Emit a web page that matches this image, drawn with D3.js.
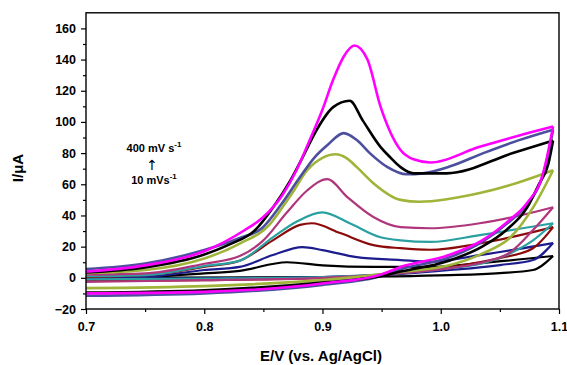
<!DOCTYPE html>
<html lang="en">
<head>
    <meta charset="UTF-8">
    <script src="https://cdnjs.cloudflare.com/ajax/libs/d3/7.8.5/d3.min.js"></script>
    <style>
        body {
            margin: 0;
            background: #fff;
        }

        text {
            font-family: Arial, "Liberation Sans", sans-serif;
            font-weight: bold;
            fill: #000;
        }
    </style>
</head>
<body>
<svg id="chart" width="567" height="365"></svg>

<script>
    // scan rates, smallest to largest (drawn in this order)
    var scanRates = [10, 25, 50, 75, 100, 150, 200, 300, 400];
    var colors = ["#000000", "#1c1c8e", "#8b0b0b", "#2aa0a0", "#b0367c", "#a0b43a", "#4b4f9e", "#000000", "#ff00ff"];

    var xTicks = [0.7, 0.8, 0.9, 1.0, 1.1];
    var xMinorTicks = [0.75, 0.85, 0.95, 1.05];
    var yTicks = [-20, 0, 20, 40, 60, 80, 100, 120, 140, 160];
    var yMinorTicks = [-10, 10, 30, 50, 70, 90, 110, 130, 150];

    // anodic (forward) sweeps, [E, I]
    var fwd10 = [[0.70, 0], [0.75, 0.6], [0.80, 2.8], [0.83, 4.5], [0.87, 10], [0.90, 8], [0.943, 7], [0.991, 7], [1.033, 9.4], [1.095, 14]];
    var fwd25 = [[0.70, 0], [0.75, 0.6], [0.80, 5], [0.83, 7], [0.858, 14.6], [0.883, 19.7], [0.90, 17.8], [0.929, 13.3], [0.966, 11.4], [0.991, 10.3], [1.033, 14.6], [1.095, 22.3]];
    var fwd50 = [[0.70, 0.5], [0.75, 1.7], [0.80, 7], [0.83, 11], [0.858, 24], [0.881, 34], [0.891, 35], [0.915, 28.7], [0.943, 21], [0.966, 19], [0.991, 18], [1.033, 22], [1.095, 32.5]];
    var fwd75 = [[0.70, 1], [0.75, 1.7], [0.80, 7.5], [0.83, 11], [0.858, 26], [0.878, 36], [0.90, 42], [0.923, 35], [0.949, 26], [0.966, 24], [0.991, 23], [1.033, 27.4], [1.095, 35]];
    var fwd100 = [[0.70, 2], [0.75, 2.8], [0.80, 9], [0.83, 14], [0.85, 24], [0.87, 42], [0.887, 56], [0.904, 63.3], [0.921, 51.8], [0.943, 39], [0.966, 32.5], [0.991, 31.8], [1.033, 35], [1.067, 40], [1.095, 45.3]];
    var fwd150 = [[0.70, 3], [0.75, 5], [0.80, 12.4], [0.83, 22], [0.855, 34], [0.865, 44], [0.875, 55], [0.887, 69], [0.90, 77], [0.911, 79.3], [0.92, 77], [0.929, 71], [0.943, 60.7], [0.966, 50], [0.982, 48.8], [1.033, 54.4], [1.065, 61], [1.095, 69]];
    var fwd200 = [[0.70, 5.6], [0.75, 9.2], [0.80, 17.8], [0.83, 25.5], [0.849, 32], [0.865, 47], [0.881, 64.6], [0.893, 77], [0.904, 85], [0.918, 92.8], [0.929, 88.4], [0.94, 80], [0.955, 71], [0.971, 66.4], [0.985, 67], [1.008, 71.5], [1.036, 80], [1.065, 88], [1.095, 95]];
    var fwd300 = [[0.70, 3.5], [0.75, 6.7], [0.80, 15], [0.82, 21], [0.843, 30.6], [0.858, 45], [0.873, 62.7], [0.885, 80], [0.895, 94.8], [0.909, 109.5], [0.923, 113.6], [0.934, 101], [0.949, 84], [0.957, 77.5], [0.966, 71], [0.977, 67], [1.005, 67], [1.061, 80], [1.095, 88]];
    var fwd400 = [[0.70, 4], [0.75, 8], [0.80, 17], [0.834, 30.5], [0.85, 39], [0.866, 53], [0.878, 69], [0.889, 88], [0.90, 108], [0.909, 127], [0.918, 142], [0.927, 149], [0.938, 140], [0.949, 110], [0.966, 82], [0.977, 76], [0.991, 74], [1.033, 84], [1.065, 91], [1.095, 97]];

    // cathodic (reverse) sweeps, [E, I]
    var rev10 = [[1.095, 14], [1.078, 5], [1.05, 3], [1.008, 1.7], [0.90, 0.5], [0.70, 0]];
    var rev25 = [[1.095, 22.3], [1.078, 11.4], [1.05, 8.2], [1.008, 5], [0.966, 2.5], [0.90, 0.5], [0.80, -0.3], [0.70, -0.5]];
    var rev50 = [[1.095, 32.5], [1.078, 19], [1.05, 12.6], [1.008, 6.9], [0.966, 3], [0.90, 0], [0.80, -1.5], [0.70, -2]];
    var rev75 = [[1.095, 35], [1.078, 24], [1.059, 15.8], [1.036, 9.4], [1.008, 6.2], [0.966, 3], [0.90, 0.5], [0.80, -0.5], [0.70, -1]];
    var rev100 = [[1.095, 45.3], [1.078, 30.6], [1.059, 16.5], [1.036, 10], [1.008, 6.2], [0.966, 3], [0.90, 0], [0.80, -1.5], [0.70, -2.6]];
    var rev150 = [[1.095, 69], [1.078, 45], [1.059, 26], [1.036, 15.8], [1.008, 8.2], [0.966, 3.7], [0.90, -1.5], [0.80, -5.3], [0.70, -6.6]];
    var rev200 = [[1.095, 95], [1.09, 76], [1.086, 65], [1.073, 47], [1.058, 36], [1.035, 23], [1.007, 13], [0.966, 5.5], [0.949, 1], [0.90, -4.5], [0.80, -10], [0.70, -11.5]];
    var rev300 = [[1.095, 88], [1.091, 73], [1.083, 60], [1.073, 45], [1.056, 31], [1.035, 20], [1.007, 11], [0.966, 4], [0.949, 1], [0.90, -3], [0.80, -8], [0.70, -9.5]];
    var rev400 = [[1.095, 97], [1.09, 78], [1.0865, 67], [1.073, 48], [1.058, 37], [1.035, 24], [1.007, 14.6], [0.966, 7], [0.949, 2], [0.90, -3.6], [0.80, -9], [0.70, -10]];

    var forward = [fwd10, fwd25, fwd50, fwd75, fwd100, fwd150, fwd200, fwd300, fwd400];
    var reverse = [rev10, rev25, rev50, rev75, rev100, rev150, rev200, rev300, rev400];

    var plotLeft = 86, plotRight = 559, plotTop = 12.8, plotBottom = 309;

    var svg = d3.select("#chart");

    var x = d3.scaleLinear().domain([0.7, 1.1]).range([plotLeft, plotRight]);
    var y = d3.scaleLinear().domain([-20, 170]).range([plotBottom, plotTop]);

    // curves
    var line = d3.line()
        .x(function (d) { return x(d[0]); })
        .y(function (d) { return y(d[1]); })
        .curve(d3.curveMonotoneX);

    var plot = svg.append("g");
    for (var i = 0; i < scanRates.length; i++) {
        var w = i < 5 ? 2.2 : 2.6;
        plot.append("path")
            .attr("d", line(forward[i]))
            .attr("fill", "none")
            .attr("stroke", colors[i])
            .attr("stroke-width", w);
        plot.append("path")
            .attr("d", line(reverse[i].slice().sort(function (a, b) { return a[0] - b[0]; })))
            .attr("fill", "none")
            .attr("stroke", colors[i])
            .attr("stroke-width", w);
    }

    // axes
    svg.append("g").attr("transform", "translate(0," + plotBottom + ")")
        .call(d3.axisBottom(x).tickValues(xTicks).tickSize(5).tickPadding(8).tickFormat(d3.format(".1f")));
    svg.append("g").attr("transform", "translate(0," + plotBottom + ")")
        .call(d3.axisBottom(x).tickValues(xMinorTicks).tickSize(3).tickFormat(""));
    svg.append("g").attr("transform", "translate(" + plotLeft + ",0)")
        .call(d3.axisLeft(y).tickValues(yTicks).tickSize(5).tickPadding(5));
    svg.append("g").attr("transform", "translate(" + plotLeft + ",0)")
        .call(d3.axisLeft(y).tickValues(yMinorTicks).tickSize(3).tickFormat(""));

    svg.selectAll(".domain").remove();
    svg.selectAll(".tick line").attr("stroke", "#000").attr("stroke-width", 1.2);
    svg.selectAll(".tick text").style("font-size", "12.5px").style("font-weight", "bold")
        .style("font-family", "Arial, 'Liberation Sans', sans-serif");

    svg.append("rect")
        .attr("x", plotLeft).attr("y", plotTop)
        .attr("width", plotRight - plotLeft).attr("height", plotBottom - plotTop)
        .attr("fill", "none").attr("stroke", "#000").attr("stroke-width", 1.4);

    // titles
    svg.append("text")
        .attr("x", 321).attr("y", 361)
        .attr("text-anchor", "middle")
        .style("font-size", "15px")
        .text("E/V (vs. Ag/AgCl)");

    svg.append("text")
        .attr("transform", "translate(23,168) rotate(-90)")
        .attr("text-anchor", "middle")
        .style("font-size", "15px")
        .text("I/μA");

    // scan-rate note
    var note = svg.append("g");
    var t1 = note.append("text").attr("x", 154).attr("y", 152).attr("text-anchor", "middle").style("font-size", "11px");
    t1.append("tspan").text("400 mV s");
    t1.append("tspan").attr("dy", -5).style("font-size", "8px").text("-1");
    note.append("text").attr("x", 152).attr("y", 170).attr("text-anchor", "middle")
        .style("font-size", "14px").style("font-weight", "normal")
        .style("font-family", "'DejaVu Sans', sans-serif").text("↑");
    var t2 = note.append("text").attr("x", 154).attr("y", 184).attr("text-anchor", "middle").style("font-size", "11px");
    t2.append("tspan").text("10 mVs");
    t2.append("tspan").attr("dy", -5).style("font-size", "8px").text("-1");
</script>
</body>
</html>
